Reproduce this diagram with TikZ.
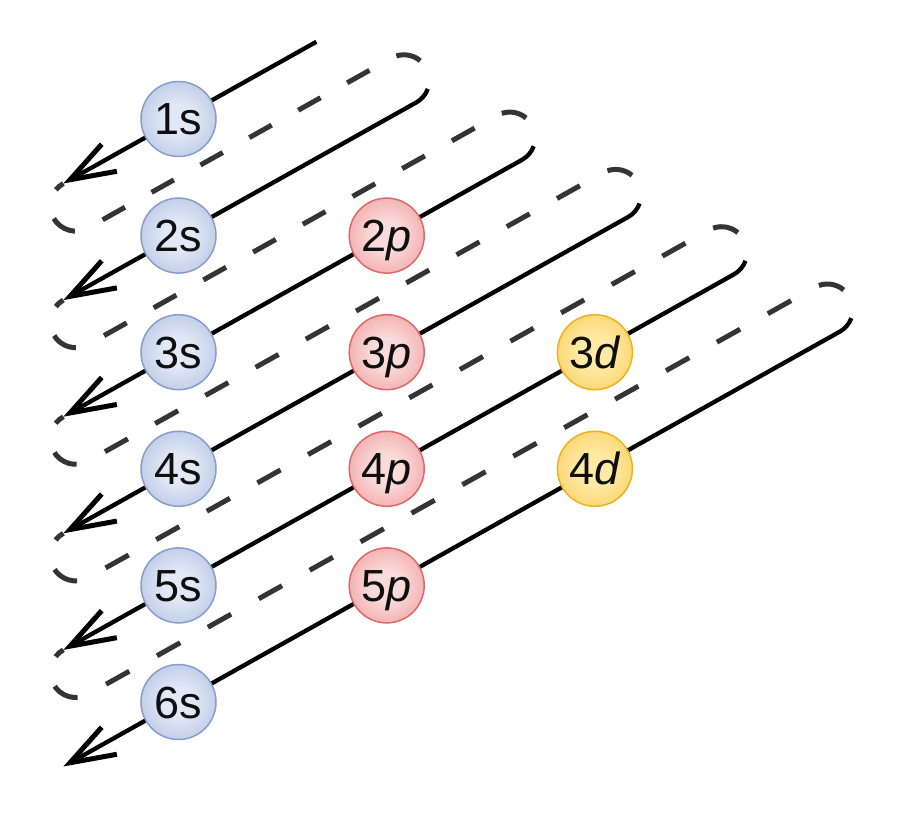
\documentclass[tikz,border=0pt]{standalone}
\usepackage{fontspec}
\setmainfont{Liberation Sans}
\usetikzlibrary{calc,arrows.meta}
\definecolor{bIn}{RGB}{225,232,246}
\definecolor{bOut}{RGB}{146,167,212}
\definecolor{bRim}{RGB}{135,157,204}
\definecolor{rIn}{RGB}{251,218,218}
\definecolor{rOut}{RGB}{231,118,118}
\definecolor{rRim}{RGB}{224,104,104}
\definecolor{yIn}{RGB}{255,234,165}
\definecolor{yOut}{RGB}{245,188,48}
\definecolor{yRim}{RGB}{238,178,30}
\definecolor{dashgray}{RGB}{52,52,52}
\definecolor{txt}{RGB}{15,15,15}
\pgfdeclareradialshading{shB}{\pgfpoint{0bp}{0bp}}{color(0bp)=(bIn); color(10bp)=(bIn); color(50bp)=(bOut)}
\pgfdeclareradialshading{shR}{\pgfpoint{0bp}{0bp}}{color(0bp)=(rIn); color(10bp)=(rIn); color(50bp)=(rOut)}
\pgfdeclareradialshading{shY}{\pgfpoint{0bp}{0bp}}{color(0bp)=(yIn); color(10bp)=(yIn); color(50bp)=(yOut)}
\tikzset{
  orb/.style={circle, minimum size=75pt, inner sep=0pt, line width=1.5pt, text=txt,
    font=\fontsize{45pt}{45pt}\selectfont, text height=32pt, text depth=0pt},
  orbs/.style={orb, shade, shading=shB, draw=bRim},
  orbp/.style={orb, shade, shading=shR, draw=rRim},
  orbd/.style={orb, shade, shading=shY, draw=yRim},
  solidarrow/.style={line width=4.3pt, -{Straight Barb[length=45pt,width=31pt,line width=5pt]}},
  dashloop/.style={draw=dashgray, line width=5pt},
}
\begin{document}
\begin{tikzpicture}[x=1pt,y=-1pt]
\useasboundingbox (0,0) rectangle (904,818);
\coordinate (u) at (0.87248,-0.48862);
\coordinate (n) at (0.48862,0.87248);
% row centres of the s column
\coordinate (c1) at (178.5,119);
\coordinate (c2) at (178.5,235.6);
\coordinate (c3) at (178.5,352.2);
\coordinate (c4) at (178.5,468.8);
\coordinate (c5) at (178.5,585.4);
\coordinate (c6) at (178.5,702.0);
% arrow tips
\foreach \k in {1,...,6}{\coordinate (T\k) at ($(c\k)-132*(u)$);}
% line starts
\coordinate (S1) at ($(c1)+158*(u)$);
\coordinate (S2) at ($(c2)+272.6*(u)$);
\coordinate (S3) at ($(c3)+393.95*(u)$);
\coordinate (S4) at ($(c4)+515.3*(u)$);
\coordinate (S5) at ($(c5)+636.65*(u)$);
\coordinate (S6) at ($(c6)+758.0*(u)$);
\foreach \k in {2,...,6}{
  \coordinate (C\k) at ($(S\k)-25.43*(n)$);
  \coordinate (E\k) at ($(S\k)-50.86*(n)$);
  \coordinate (Q\k) at ($(C\k)+(23.90,8.70)$);
}
% dashed return loops
\draw[dashloop, dash pattern=on 25.56pt off 30.49pt, dash phase=15.73pt]
  (T1) arc[start angle=240.75,end angle=60.75,radius=25.43] -- (E2) arc[start angle=-119.25,end angle=-50,radius=25.43];
\draw[dashloop, dash pattern=on 25.98pt off 30.98pt, dash phase=15.99pt]
  (T2) arc[start angle=240.75,end angle=60.75,radius=25.43] -- (E3) arc[start angle=-119.25,end angle=-50,radius=25.43];
\draw[dashloop, dash pattern=on 26.26pt off 31.31pt, dash phase=16.16pt]
  (T3) arc[start angle=240.75,end angle=60.75,radius=25.43] -- (E4) arc[start angle=-119.25,end angle=-50,radius=25.43];
\draw[dashloop, dash pattern=on 26.46pt off 31.55pt, dash phase=16.28pt]
  (T4) arc[start angle=240.75,end angle=60.75,radius=25.43] -- (E5) arc[start angle=-119.25,end angle=-50,radius=25.43];
\draw[dashloop, dash pattern=on 26.61pt off 31.73pt, dash phase=16.38pt]
  (T5) arc[start angle=240.75,end angle=60.75,radius=25.43] -- (E6) arc[start angle=-119.25,end angle=-50,radius=25.43];
% solid arrows
\draw[solidarrow] (S1) -- (T1);
\foreach \k in {2,...,6}{
  \draw[solidarrow] (Q\k) arc[start angle=20,end angle=60.75,radius=25.43] -- (T\k);
}
% orbitals
\node[orbs] (s1) at (c1) {1s};
\node[orbs] (s2) at (c2) {2s};
\node[orbs] (s3) at (c3) {3s};
\node[orbs] (s4) at (c4) {4s};
\node[orbs] (s5) at (c5) {5s};
\node[orbs] (s6) at (c6) {6s};
\node[orbp] (p2) at (386.7,235.6) {2\textit{p}};
\node[orbp] (p3) at (386.7,352.2) {3\textit{p}};
\node[orbp] (p4) at (386.7,468.8) {4\textit{p}};
\node[orbp] (p5) at (386.7,585.4) {5\textit{p}};
\node[orbd] (d3) at (594.9,352.2) {3\textit{d}};
\node[orbd] (d4) at (594.9,468.8) {4\textit{d}};
\end{tikzpicture}
\end{document}
